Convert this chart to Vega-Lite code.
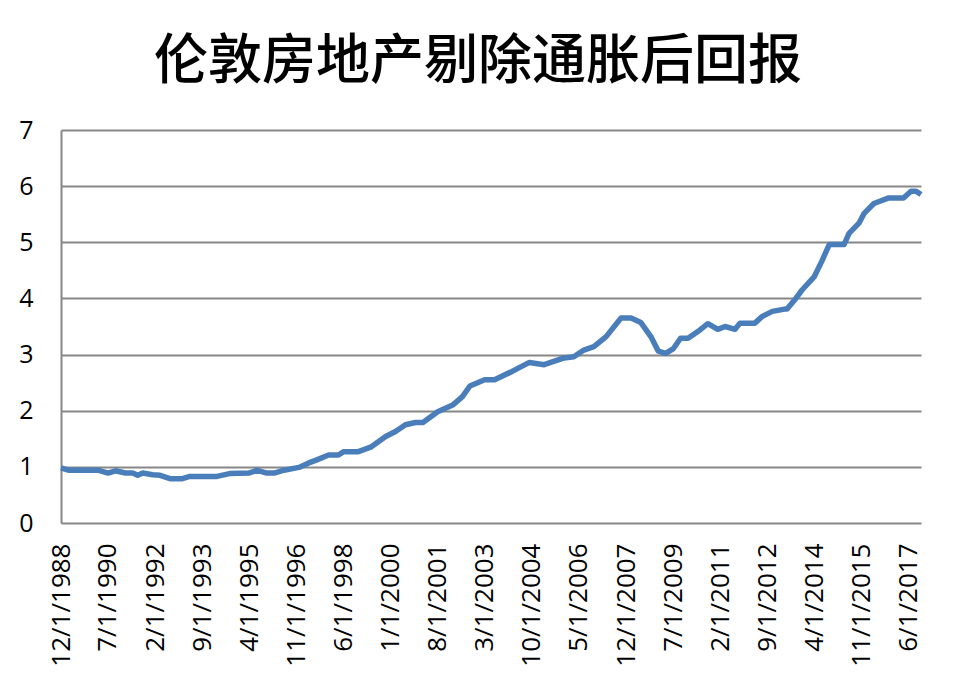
{
  "$schema": "https://vega.github.io/schema/vega-lite/v6.json",
  "width": 860,
  "height": 393,
  "autosize": "none",
  "padding": {"left": 61, "top": 130, "right": 36, "bottom": 170},
  "background": "white",
  "title": {
    "text": "伦敦房地产剔除通胀后回报",
    "font": "Noto Sans CJK SC",
    "fontSize": 54,
    "fontWeight": 500,
    "color": "black",
    "anchor": "middle",
    "dx": -13,
    "dy": 51,
    "offset": 25,
    "baseline": "bottom"
  },
  "config": {"view": {"stroke": null}},
  "data": {
    "values": [
      {"date": "1988-12-01", "value": 0.98},
      {"date": "1989-03-01", "value": 0.94},
      {"date": "1989-09-01", "value": 0.94},
      {"date": "1990-03-01", "value": 0.94},
      {"date": "1990-07-01", "value": 0.89},
      {"date": "1990-10-01", "value": 0.93},
      {"date": "1991-02-01", "value": 0.89},
      {"date": "1991-05-01", "value": 0.89},
      {"date": "1991-07-01", "value": 0.85},
      {"date": "1991-09-01", "value": 0.89},
      {"date": "1992-01-01", "value": 0.86},
      {"date": "1992-04-01", "value": 0.85},
      {"date": "1992-08-01", "value": 0.79},
      {"date": "1993-01-01", "value": 0.79},
      {"date": "1993-04-01", "value": 0.83},
      {"date": "1994-03-01", "value": 0.83},
      {"date": "1994-08-01", "value": 0.88},
      {"date": "1995-04-01", "value": 0.89},
      {"date": "1995-07-01", "value": 0.94},
      {"date": "1995-11-01", "value": 0.89},
      {"date": "1996-02-01", "value": 0.89},
      {"date": "1996-06-01", "value": 0.94},
      {"date": "1996-12-01", "value": 0.99},
      {"date": "1997-04-01", "value": 1.07},
      {"date": "1997-07-01", "value": 1.12},
      {"date": "1997-12-01", "value": 1.21},
      {"date": "1998-04-01", "value": 1.21},
      {"date": "1998-06-01", "value": 1.27},
      {"date": "1998-12-01", "value": 1.27},
      {"date": "1999-05-01", "value": 1.35},
      {"date": "1999-11-01", "value": 1.54},
      {"date": "2000-03-01", "value": 1.63},
      {"date": "2000-07-01", "value": 1.75},
      {"date": "2000-11-01", "value": 1.79},
      {"date": "2001-02-01", "value": 1.79},
      {"date": "2001-08-01", "value": 1.98},
      {"date": "2002-02-01", "value": 2.10},
      {"date": "2002-06-01", "value": 2.25},
      {"date": "2002-09-01", "value": 2.44},
      {"date": "2003-03-01", "value": 2.55},
      {"date": "2003-07-01", "value": 2.55},
      {"date": "2004-02-01", "value": 2.70},
      {"date": "2004-09-01", "value": 2.86},
      {"date": "2005-03-01", "value": 2.82},
      {"date": "2005-11-01", "value": 2.94},
      {"date": "2006-03-01", "value": 2.96},
      {"date": "2006-07-01", "value": 3.08},
      {"date": "2006-11-01", "value": 3.14},
      {"date": "2007-04-01", "value": 3.32},
      {"date": "2007-10-01", "value": 3.65},
      {"date": "2008-02-01", "value": 3.65},
      {"date": "2008-06-01", "value": 3.57},
      {"date": "2008-10-01", "value": 3.32},
      {"date": "2009-01-01", "value": 3.06},
      {"date": "2009-04-01", "value": 3.02},
      {"date": "2009-07-01", "value": 3.10},
      {"date": "2009-10-01", "value": 3.29},
      {"date": "2010-01-01", "value": 3.29},
      {"date": "2010-05-01", "value": 3.41},
      {"date": "2010-09-01", "value": 3.55},
      {"date": "2011-01-01", "value": 3.45},
      {"date": "2011-04-01", "value": 3.50},
      {"date": "2011-08-01", "value": 3.45},
      {"date": "2011-10-01", "value": 3.56},
      {"date": "2012-04-01", "value": 3.56},
      {"date": "2012-07-01", "value": 3.68},
      {"date": "2012-11-01", "value": 3.77},
      {"date": "2013-04-01", "value": 3.81},
      {"date": "2013-05-01", "value": 3.81},
      {"date": "2013-08-01", "value": 3.97},
      {"date": "2013-11-01", "value": 4.15},
      {"date": "2014-04-01", "value": 4.39},
      {"date": "2014-07-01", "value": 4.66},
      {"date": "2014-10-01", "value": 4.96},
      {"date": "2015-04-01", "value": 4.96},
      {"date": "2015-06-01", "value": 5.16},
      {"date": "2015-10-01", "value": 5.34},
      {"date": "2015-12-01", "value": 5.51},
      {"date": "2016-04-01", "value": 5.69},
      {"date": "2016-10-01", "value": 5.79},
      {"date": "2017-04-01", "value": 5.79},
      {"date": "2017-07-01", "value": 5.91},
      {"date": "2017-09-01", "value": 5.91},
      {"date": "2017-11-01", "value": 5.85}
    ]
  },
  "mark": {"type": "line", "color": "#4a7ebb", "strokeWidth": 5.5, "strokeJoin": "round", "strokeCap": "butt"},
  "encoding": {
    "x": {
      "field": "date",
      "type": "temporal",
      "scale": {
        "type": "utc",
        "domain": [
          {"year": 1988, "month": 12, "date": 1, "utc": true},
          {"year": 2017, "month": 11, "date": 1, "utc": true}
        ]
      },
      "axis": {
        "title": null,
        "values": [
          {"year": 1988, "month": 12, "date": 1, "utc": true},
          {"year": 1990, "month": 7, "date": 1, "utc": true},
          {"year": 1992, "month": 2, "date": 1, "utc": true},
          {"year": 1993, "month": 9, "date": 1, "utc": true},
          {"year": 1995, "month": 4, "date": 1, "utc": true},
          {"year": 1996, "month": 11, "date": 1, "utc": true},
          {"year": 1998, "month": 6, "date": 1, "utc": true},
          {"year": 2000, "month": 1, "date": 1, "utc": true},
          {"year": 2001, "month": 8, "date": 1, "utc": true},
          {"year": 2003, "month": 3, "date": 1, "utc": true},
          {"year": 2004, "month": 10, "date": 1, "utc": true},
          {"year": 2006, "month": 5, "date": 1, "utc": true},
          {"year": 2007, "month": 12, "date": 1, "utc": true},
          {"year": 2009, "month": 7, "date": 1, "utc": true},
          {"year": 2011, "month": 2, "date": 1, "utc": true},
          {"year": 2012, "month": 9, "date": 1, "utc": true},
          {"year": 2014, "month": 4, "date": 1, "utc": true},
          {"year": 2015, "month": 11, "date": 1, "utc": true},
          {"year": 2017, "month": 6, "date": 1, "utc": true}
        ],
        "labelExpr": "utcFormat(datum.value, '%-m/%-d/%Y')",
        "labelAngle": -90,
        "labelFont": "Open Sans",
        "labelFontSize": 26,
        "labelColor": "black",
        "labelPadding": 20,
        "labelOverlap": false,
        "labelFlush": false,
        "ticks": false,
        "domain": false,
        "grid": false
      }
    },
    "y": {
      "field": "value",
      "type": "quantitative",
      "scale": {"domain": [0, 7], "nice": false},
      "axis": {
        "title": null,
        "values": [0, 1, 2, 3, 4, 5, 6, 7],
        "labelFont": "Open Sans",
        "labelFontSize": 25,
        "labelColor": "black",
        "labelPadding": 28,
        "ticks": false,
        "domain": true,
        "domainColor": "#878787",
        "domainWidth": 2,
        "grid": true,
        "gridColor": "#878787",
        "gridWidth": 2
      }
    }
  }
}
